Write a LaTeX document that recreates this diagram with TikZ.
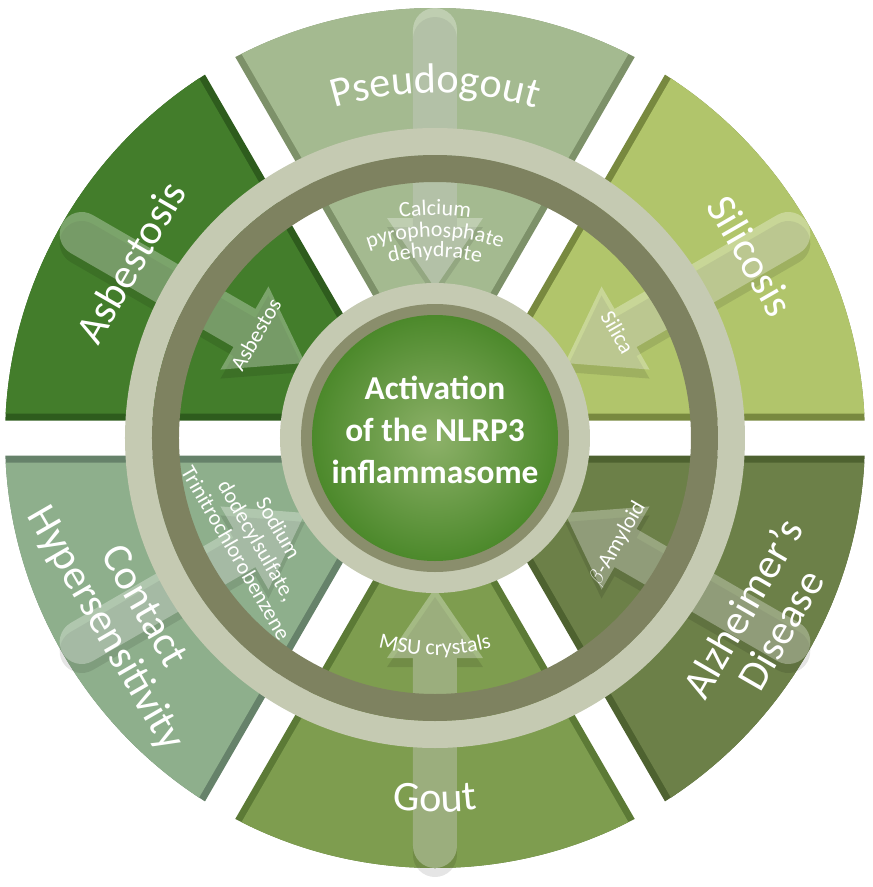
\documentclass[tikz,border=0pt]{standalone}
\usepackage{fontspec}
\setmainfont{Carlito}
\usepackage{tikz}
\usetikzlibrary{decorations.text}

\definecolor{pseudoface}{HTML}{A4BA90}
\definecolor{pseudoside}{HTML}{7D9169}
\definecolor{silicface}{HTML}{B1C56B}
\definecolor{silicside}{HTML}{78893F}
\definecolor{alzface}{HTML}{6C8048}
\definecolor{alzside}{HTML}{4E6230}
\definecolor{goutface}{HTML}{7E9D4F}
\definecolor{goutside}{HTML}{5C7A36}
\definecolor{contactface}{HTML}{8EAF8C}
\definecolor{contactside}{HTML}{66826A}
\definecolor{asbface}{HTML}{437D2B}
\definecolor{asbside}{HTML}{2E5C1D}
\definecolor{ringpale}{HTML}{C5CAB2}
\definecolor{ringdark}{HTML}{7E8260}
\definecolor{coredark}{HTML}{8A8E6C}
\definecolor{coreinner}{HTML}{8DB169}
\definecolor{coreouter}{HTML}{4C892B}

\tikzset{
  disease/.style={text=white,font=\fontsize{24}{25}\selectfont,align=center,inner sep=0pt},
  trigger/.style={text=white,font=\fontsize{12.5}{14}\selectfont,align=center,inner sep=0pt},
  core/.style={text=white,font=\bfseries\fontsize{19}{24}\selectfont,align=center,inner sep=0pt},
  arrowbody/.style={fill=white,opacity=.3},
  arrowshade/.style={fill=black,opacity=.1}
}

\begin{document}
\begin{tikzpicture}[x=0.02cm,y=0.02cm,line cap=round,line join=round]
            \useasboundingbox (-435,-449) rectangle (438,438);

            % six disease sectors, split by white gaps
            \foreach \a/\face/\side in {90/pseudoface/pseudoside,30/silicface/silicside,-30/alzface/alzside,-90/goutface/goutside,210/contactface/contactside,150/asbface/asbside}{
                \begin{scope}
                    \clip (0,0) circle[radius=430];
                    \fill[\side,shift={(\a:35)}] (0,0) -- ({\a-30}:700) -- ({\a+30}:700) -- cycle;
                    \fill[\face,shift={(\a:49)}] (0,0) -- ({\a-30}:700) -- ({\a+30}:700) -- cycle;
                \end{scope}
            }

            % wide arrows pointing to the centre
            \foreach \a in {90,30,-30,-90,210,150}{
                \fill[arrowshade,shift={(0,-9)},rotate=\a] (150,0) -- (220,48) -- (220,22) -- (408,22)
                    arc[start angle=90,end angle=-90,radius=22] -- (220,-22) -- (220,-48) -- cycle;
                \fill[arrowbody,rotate=\a] (150,0) -- (220,48) -- (220,22) -- (408,22)
                    arc[start angle=90,end angle=-90,radius=22] -- (220,-22) -- (220,-48) -- cycle;
            }

            % outer rings
            \fill[ringpale,even odd rule] (0,0) circle[radius=310] circle[radius=283];
            \fill[ringdark,even odd rule] (0,0) circle[radius=283] circle[radius=256];

            % core
            \fill[ringpale] (0,0) circle[radius=155];
            \fill[coredark] (0,0) circle[radius=134];
            \shade[inner color=coreinner,outer color=coreouter] (0,0) circle[radius=123];

            \node[core] (core) at (0,8) {Activation\\of the NLRP3\\inflammasome};

            % disease names
            \path[decorate,decoration={text along path,text align=center,text color=white,
                text={|\fontsize{24}{25}\selectfont|Pseudogout}}] (120:345) arc[start angle=120,end angle=60,radius=345];
            \path[decorate,decoration={text along path,text align=center,text color=white,
                text={|\fontsize{24}{25}\selectfont|Gout}}] (240:374) arc[start angle=240,end angle=300,radius=374];

            \node[disease,rotate=60] (asbestosis) at (150:352) {Asbestosis};
            \node[disease,rotate=-60] (silicosis) at (30:365) {Silicosis};
            \node[disease,rotate=-60] (contact) at (210:360) {Contact\\Hypersensitivity};
            \node[disease,rotate=60] (alzheimer) at (-29:373) {Alzheimer’s\\Disease};

            % triggers
            \path[decorate,decoration={text along path,text align=center,text color=white,
                text={|\fontsize{12.5}{14}\selectfont|Calcium}}] (120:223) arc[start angle=120,end angle=60,radius=223];
            \path[decorate,decoration={text along path,text align=center,text color=white,
                text={|\fontsize{12.5}{14}\selectfont|pyrophosphate}}] (120:201) arc[start angle=120,end angle=60,radius=201];
            \path[decorate,decoration={text along path,text align=center,text color=white,
                text={|\fontsize{12.5}{14}\selectfont|dehydrate}}] (120:181) arc[start angle=120,end angle=60,radius=181];
            \path[decorate,decoration={text along path,text align=center,text color=white,
                text={|\fontsize{12.5}{14}\selectfont|MSU crystals}}] (240:217) arc[start angle=240,end angle=300,radius=217];

            \node[trigger,rotate=60] (asbestos) at (150:207) {Asbestos};
            \node[trigger,rotate=-60] (silica) at (30:211) {Silica};
            \node[trigger,rotate=-60] (sodium) at (210:205) {Sodium\\dodecylsulfate,\\Trinitrochlorobenzene};
            \node[trigger,rotate=60] (amyloid) at (-30:211) {$\beta$-Amyloid};
        \end{tikzpicture}
\end{document}
